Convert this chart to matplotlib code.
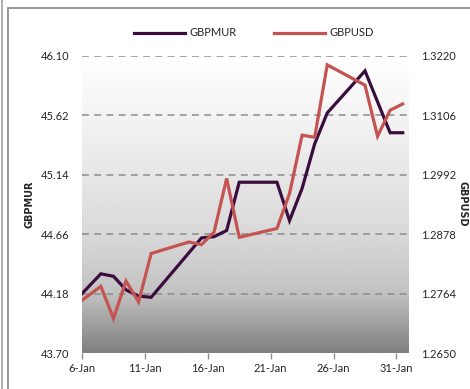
import numpy as np
import pandas as pd
import matplotlib
matplotlib.use("Agg")
import matplotlib.pyplot as plt
from matplotlib.lines import Line2D

plt.rcParams['font.family'] = ['Lato', 'DejaVu Sans']

# daily fixings (weekdays), Jan 2019
dates = ['2019-01-04', '2019-01-07', '2019-01-08', '2019-01-09', '2019-01-10', '2019-01-11',
         '2019-01-14', '2019-01-15', '2019-01-16', '2019-01-17', '2019-01-18',
         '2019-01-21', '2019-01-22', '2019-01-23', '2019-01-24', '2019-01-25',
         '2019-01-28', '2019-01-29', '2019-01-30', '2019-01-31']
gbpmur = [44.02, 44.34, 44.32, 44.21, 44.16, 44.15,
          44.51, 44.63, 44.64, 44.69, 45.08,
          45.08, 44.77, 45.03, 45.39, 45.64,
          45.98, 45.73, 45.48, 45.48]
gbpusd = [1.2724, 1.2778, 1.2716, 1.2788, 1.2748, 1.2841,
          1.2863, 1.2858, 1.2882, 1.2985, 1.2872,
          1.2889, 1.2956, 1.3068, 1.3064, 1.3203,
          1.3164, 1.3066, 1.3116, 1.3128]

left_ticks = [43.70, 44.18, 44.66, 45.14, 45.62, 46.10]
right_ticks = [1.2650, 1.2764, 1.2878, 1.2992, 1.3106, 1.3220]
x_ticks = ['2019-01-06', '2019-01-11', '2019-01-16', '2019-01-21', '2019-01-26', '2019-01-31']
x_labels = ['6-Jan', '11-Jan', '16-Jan', '21-Jan', '26-Jan', '31-Jan']

mur_color = '#3a0d3e'
usd_color = '#c55352'
txt_color = '#262626'

# points sit in the middle of each day (Excel "between tick marks")
x = pd.to_datetime(dates) + pd.Timedelta(hours=12)

fig = plt.figure(figsize=(4.70, 3.89), dpi=100)
ax = fig.add_axes([82 / 470, 1 - 353 / 389, 327 / 470, 297 / 389])
ax2 = ax.twinx()

# gradient background
stops_t = [0.0, 0.3, 0.6, 0.8, 1.0]
stops_v = [1.0, 0.93, 0.85, 0.76, 0.50]
grad = np.interp(np.linspace(0, 1, 256), stops_t, stops_v).reshape(-1, 1)
ax.imshow(grad, cmap='gray', vmin=0, vmax=1, aspect='auto', extent=[0, 1, 0, 1],
          transform=ax.transAxes, zorder=0, interpolation='bilinear')

for t in left_ticks[1:]:
    ax.axhline(t, color='#8c8c8c', lw=1.1, ls=(0, (4.5, 3.5)), zorder=1)

ax.plot(x, gbpmur, color=mur_color, lw=2.3, zorder=3, solid_joinstyle='miter')
ax2.plot(x, gbpusd, color=usd_color, lw=2.3, zorder=3, solid_joinstyle='miter')

ax.set_xlim(pd.Timestamp('2019-01-06'), pd.Timestamp('2019-02-01'))
ax.set_ylim(left_ticks[0], left_ticks[-1])
ax2.set_ylim(right_ticks[0], right_ticks[-1])

ax.set_yticks(left_ticks)
ax.set_yticklabels([f'{v:.2f}' for v in left_ticks])
ax2.set_yticks(right_ticks)
ax2.set_yticklabels([f'{v:.4f}' for v in right_ticks])
ax.set_xticks(pd.to_datetime(x_ticks))
ax.set_xticklabels(x_labels)

for a in (ax, ax2):
    for s in a.spines.values():
        s.set_visible(False)
ax.tick_params(axis='y', length=0, pad=9, labelsize=8, labelcolor=txt_color)
ax2.tick_params(axis='y', length=0, pad=9, labelsize=8, labelcolor=txt_color)
ax.tick_params(axis='x', length=4, width=1, color='#8c8c8c', pad=3, labelsize=8,
               labelcolor=txt_color)

fig.text(30 / 470, 1 - 204 / 389, 'GBPMUR', rotation=90, ha='center', va='center',
         fontsize=7, fontweight='bold', family='DejaVu Sans', color=txt_color)
fig.text(463 / 470, 1 - 204 / 389, 'GBPUSD', rotation=270, ha='center', va='center',
         fontsize=7, fontweight='bold', family='DejaVu Sans', color=txt_color)

handles = [Line2D([], [], color=mur_color, lw=2.3), Line2D([], [], color=usd_color, lw=2.3)]
fig.legend(handles, ['GBPMUR', 'GBPUSD'], loc='center', bbox_to_anchor=(0.540, 1 - 33 / 389),
           ncol=2, frameon=False, fontsize=8, handlelength=4.6, columnspacing=3.3,
           handletextpad=0.45, labelcolor=txt_color)

# chart frame
fig.add_artist(plt.Rectangle((8 / 470, -0.1), 1.2, 1.1 - 8 / 389, transform=fig.transFigure,
                             fill=False, edgecolor='#8f8f8f', lw=1.3))
fig.add_artist(Line2D([1.5 / 470, 1.5 / 470], [0, 1], transform=fig.transFigure,
                      color='#a0a0a0', lw=1.2))

fig.savefig('out.png', dpi=100)
